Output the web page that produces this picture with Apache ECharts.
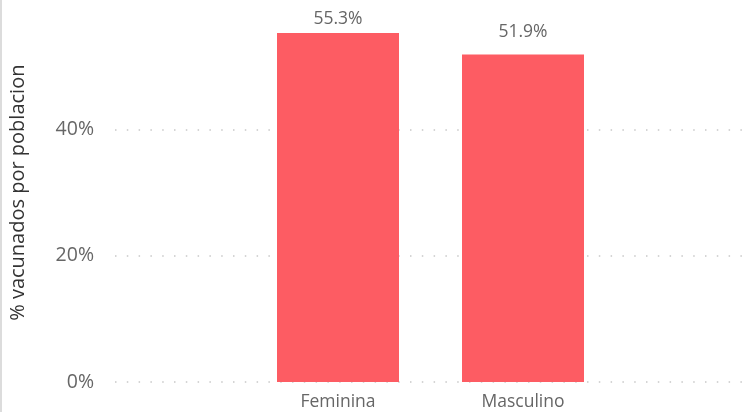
<!DOCTYPE html>
<html>
<head>
<meta charset="utf-8">
<script src="https://cdn.jsdelivr.net/npm/echarts@6/dist/echarts.min.js"></script>
<style>html,body{margin:0;padding:0;background:#fff}#c{width:751px;height:412px}</style>
</head>
<body>
<div id="c"></div>
<script>
const categories = ['Feminina', 'Masculino'];
const values = [55.3, 51.9];
const yTicks = [0, 20, 40];
const yTitle = '% vacunados por poblacion';

const FONT = '"Open Sans", "Noto Sans", sans-serif';
const LABEL_DIST = 10;
const chart = echarts.init(document.getElementById('c'), null, {renderer: 'canvas'});
const yCommon = {min: 0, max: 60, interval: 20};
chart.setOption({
  animation: false,
  graphic: [{type: 'rect', shape: {x: 0, y: 0, width: 2, height: 412}, style: {fill: '#dcdcdc'}}],
  grid: [
    {left: 110, right: 0, top: 3.4, bottom: 30, containLabel: false},
    {left: 245.5, right: 135.5, top: 3.4, bottom: 30, containLabel: false}
  ],
  xAxis: [
    {gridIndex: 0, type: 'value', show: false},
    {gridIndex: 1, type: 'category', data: categories,
     axisLine: {show: false}, axisTick: {show: false},
     axisLabel: {color: '#666', fontFamily: FONT, fontSize: 17.5, margin: 11}}
  ],
  yAxis: [
    Object.assign({gridIndex: 0, type: 'value',
      axisLine: {show: false}, axisTick: {show: false},
      axisLabel: {color: '#666', fontFamily: FONT, fontSize: 19.5, margin: 21, showMaxLabel: false,
        formatter: v => yTicks.indexOf(v) >= 0 ? v + '%' : ''},
      splitLine: {show: true, showMaxLine: false, lineStyle: {color: '#c8c8c8', width: 1.5, type: [1.5, 10.3]}},
      name: yTitle, nameLocation: 'middle', nameGap: 87, nameRotate: 90,
      nameTextStyle: {color: '#333', fontFamily: FONT, fontSize: 20}
    }, yCommon),
    Object.assign({gridIndex: 1, type: 'value', show: false, splitLine: {show: false}}, yCommon)
  ],
  series: [{
    type: 'bar', xAxisIndex: 1, yAxisIndex: 1, data: values, barWidth: 122,
    itemStyle: {color: '#FD5C63'},
    label: {show: true, position: 'top', distance: LABEL_DIST, color: '#666', fontFamily: FONT, fontSize: 17.5,
      formatter: p => p.value.toFixed(1) + '%'},
    labelLayout: function (p) {
      const r = p.labelRect;
      const barTop = r.y + r.height + LABEL_DIST;
      const cy = Math.max(barTop - 22, 19.5);
      return {x: r.x + r.width / 2, y: cy, align: 'center', verticalAlign: 'middle'};
    }
  }]
});
</script>
</body>
</html>
